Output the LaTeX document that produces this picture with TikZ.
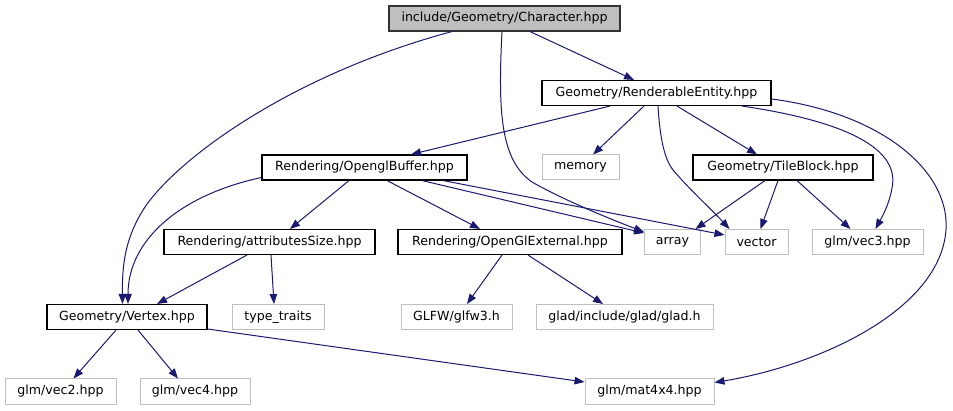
\documentclass[tikz,border=0pt]{standalone}
\usepackage{fontspec}
\setmainfont{DejaVu Sans}
\usetikzlibrary{arrows.meta}
\definecolor{edgecol}{HTML}{191970}
\definecolor{extgray}{HTML}{BFBFBF}
\tikzset{
  box/.style={draw=black, line width=1.1pt, inner sep=0pt, minimum height=25pt, font=\fontsize{12.6}{14}\selectfont, text=black},
  ext/.style={box, draw=extgray, line width=1pt},
  root/.style={box, fill=extgray, draw=black!80},
  edge/.style={draw=edgecol, line width=1pt, -{Triangle[length=10pt,width=7.5pt]}, color=edgecol},
}
\begin{document}
\begin{tikzpicture}[x=1pt,y=-1pt]
\useasboundingbox (0,0) rectangle (953,411);
% nodes
\node[root, minimum width=231pt] (char) at (504.5,18.5) {include/Geometry/Character.hpp};
\node[box, minimum width=229pt] (rent) at (656.5,93) {Geometry/RenderableEntity.hpp};
\node[box, minimum width=205pt] (obuf) at (364.5,167.5) {Rendering/OpenglBuffer.hpp};
\node[ext, minimum width=77pt] (mem) at (580.5,167.5) {memory};
\node[box, minimum width=180pt] (tile) at (783,167.5) {Geometry/TileBlock.hpp};
\node[box, minimum width=211pt] (attr) at (269.5,242) {Rendering/attributesSize.hpp};
\node[box, minimum width=224pt] (oext) at (510,242) {Rendering/OpenGlExternal.hpp};
\node[ext, minimum width=56pt] (arr) at (672.5,242) {array};
\node[ext, minimum width=63pt] (vec) at (756.5,242) {vector};
\node[ext, minimum width=111pt] (vec3) at (867.5,242) {glm/vec3.hpp};
\node[box, minimum width=160pt] (vert) at (127,317) {Geometry/Vertex.hpp};
\node[ext, minimum width=92pt] (tt) at (278,317) {type\_traits};
\node[ext, minimum width=111pt] (glfw) at (456.5,317) {GLFW/glfw3.h};
\node[ext, minimum width=177pt] (glad) at (624.5,317) {glad/include/glad/glad.h};
\node[ext, minimum width=111pt] (vec2) at (60.5,391.5) {glm/vec2.hpp};
\node[ext, minimum width=110pt] (vec4) at (195,391.5) {glm/vec4.hpp};
\node[ext, minimum width=129pt] (mat) at (649.5,391.5) {glm/mat4x4.hpp};
% edges from Character
\draw[edge] ([xshift=-52.5pt]char.south) .. controls (290,75) and (175,160) .. (143,210) .. controls (126,238) and (122,262) .. ([xshift=-4.5pt]vert.north);
\draw[edge] ([xshift=-2.5pt]char.south) .. controls (498,110) and (500,160) .. (532,182) .. controls (560,198) and (600,215) .. ([yshift=10pt]arr.west);
\draw[edge] ([xshift=25.5pt]char.south) -- ([xshift=-22.5pt]rent.north);
% edges from RenderableEntity
\draw[edge] ([xshift=-46.5pt]rent.south) -- ([xshift=46.5pt]obuf.north);
\draw[edge] ([xshift=-12.5pt]rent.south) -- ([xshift=12.5pt]mem.north);
\draw[edge] ([xshift=1.5pt]rent.south) .. controls (660,140) and (665,160) .. (673,170) .. controls (690,190) and (712,210) .. ([xshift=-27pt]vec.north);
\draw[edge] ([xshift=20.5pt]rent.south) -- ([xshift=-26pt]tile.north);
\draw[edge] ([xshift=85.5pt]rent.south) .. controls (850,122) and (900,150) .. (892,188) .. controls (889,205) and (882,217) .. ([xshift=8pt]vec3.north);
\draw[edge] ([yshift=-6pt]rent.east) .. controls (880,113) and (950,170) .. (946,230) .. controls (940,310) and (820,365) .. ([yshift=9pt]mat.east);
% edges from TileBlock
\draw[edge] ([xshift=-18pt]tile.south) -- ([xshift=23pt]arr.north);
\draw[edge] ([xshift=-5pt]tile.south) -- ([xshift=4pt]vec.north);
\draw[edge] ([xshift=14pt]tile.south) -- ([xshift=-17pt]vec3.north);
% edges from OpenglBuffer
\draw[edge] ([yshift=-10pt]obuf.west) .. controls (180,195) and (128,240) .. ([xshift=1pt]vert.north);
\draw[edge] ([xshift=-15.5pt]obuf.south) -- ([xshift=20.5pt]attr.north);
\draw[edge] ([xshift=22.5pt]obuf.south) -- ([xshift=-30pt]oext.north);
\draw[edge] ([xshift=57.5pt]obuf.south) -- ([yshift=9pt]arr.west);
\draw[edge] ([xshift=78.5pt]obuf.south) -- ([yshift=7pt]vec.west);
% edges from attributesSize
\draw[edge] ([xshift=-22.5pt]attr.south) -- ([xshift=30pt]vert.north);
\draw[edge] ([xshift=1.5pt]attr.south) -- ([xshift=-4pt]tt.north);
% edges from OpenGlExternal
\draw[edge] ([xshift=-8pt]oext.south) -- ([xshift=10.5pt]glfw.north);
\draw[edge] ([xshift=18pt]oext.south) -- ([xshift=-21.5pt]glad.north);
% edges from Vertex
\draw[edge] ([xshift=-11pt]vert.south) -- ([xshift=13pt]vec2.north);
\draw[edge] ([xshift=11pt]vert.south) -- ([xshift=-17pt]vec4.north);
\draw[edge] ([yshift=-12pt]vert.east) -- ([yshift=9.5pt]mat.west);
\end{tikzpicture}
\end{document}
